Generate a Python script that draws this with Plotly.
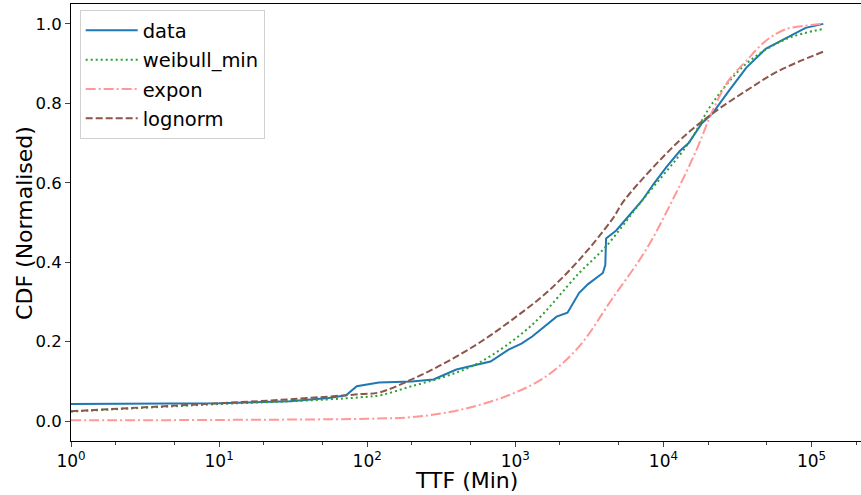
import plotly.graph_objects as go

# TTF (minutes) and CDF values
data_x = [1, 10, 30, 55, 72, 85, 120, 200, 280, 400, 520, 680, 900, 1100, 1300,
          1600, 1900, 2250, 2500, 2700, 3100, 3500, 3900, 4050, 4100, 4800,
          5900, 7200, 8700, 10500, 12900, 14800, 18200, 21400, 27500, 36300,
          49000, 67600, 91200, 120000]
data_y = [0.043, 0.045, 0.05, 0.058, 0.065, 0.088, 0.097, 0.10, 0.105, 0.13,
          0.14, 0.15, 0.18, 0.195, 0.213, 0.24, 0.263, 0.273, 0.30, 0.323,
          0.345, 0.36, 0.373, 0.393, 0.46, 0.48, 0.52, 0.556, 0.60, 0.64,
          0.68, 0.70, 0.75, 0.774, 0.83, 0.89, 0.937, 0.965, 0.99, 1.0]

weib_x = [1, 10, 30, 90, 125, 200, 340, 575, 1260, 2700, 4100, 7200, 14800,
          21400, 36300, 67600, 120000]
weib_y = [0.024, 0.043, 0.05, 0.06, 0.066, 0.088, 0.113, 0.148, 0.238, 0.373,
          0.44, 0.556, 0.70, 0.80, 0.90, 0.962, 0.987]

expon_x = [1, 10, 100, 200, 360, 600, 1000, 1620, 2700, 4470, 7590, 11500,
           16600, 21400, 27500, 36300, 49000, 67600, 100000, 120000]
expon_y = [0.002, 0.003, 0.006, 0.01, 0.023, 0.043, 0.072, 0.113, 0.188, 0.306,
           0.43, 0.556, 0.68, 0.78, 0.857, 0.907, 0.957, 0.987, 0.997, 1.0]

logn_x = [1, 10, 30, 90, 120, 200, 340, 575, 950, 1620, 2700, 4470, 5500,
          12900, 21400, 36300, 60300, 120000]
logn_y = [0.025, 0.045, 0.055, 0.068, 0.072, 0.105, 0.148, 0.198, 0.255,
          0.323, 0.406, 0.506, 0.558, 0.707, 0.774, 0.832, 0.882, 0.93]

x_ticks = [1, 10, 100, 1000, 10000, 100000]
x_tick_text = ["10<sup>0</sup>", "10<sup>1</sup>", "10<sup>2</sup>",
               "10<sup>3</sup>", "10<sup>4</sup>", "10<sup>5</sup>"]
y_ticks = [0.0, 0.2, 0.4, 0.6, 0.8, 1.0]

fig = go.Figure()
fig.add_trace(go.Scatter(x=data_x, y=data_y, mode="lines", name="data",
                         legendgroup="a",
                         line=dict(color="#1f77b4", width=2)))
fig.add_trace(go.Scatter(x=weib_x, y=weib_y, mode="lines", name="weibull_min",
                         legendgroup="b", line_shape="spline",
                         line=dict(color="#2ca02c", width=2, dash="2px,3px")))
fig.add_trace(go.Scatter(x=expon_x, y=expon_y, mode="lines", name="expon",
                         legendgroup="c", line_shape="spline",
                         line=dict(color="#ff9896", width=2, dash="10px,3px,2px,3px")))
fig.add_trace(go.Scatter(x=logn_x, y=logn_y, mode="lines", name="lognorm",
                         legendgroup="d", line_shape="spline",
                         line=dict(color="#8c564b", width=2, dash="7px,3px")))

font = "DejaVu Sans"
fig.update_layout(
    width=861, height=495,
    margin=dict(l=71, r=0, t=4, b=54),
    plot_bgcolor="white", paper_bgcolor="white",
    font=dict(family=font, color="black", size=16),
    legend=dict(x=0.011, y=0.986, xanchor="left", yanchor="top",
                bgcolor="rgba(255,255,255,0.8)", bordercolor="#d0d0d0",
                borderwidth=1, font=dict(size=19.5), tracegroupgap=1,
                itemwidth=52),
    xaxis=dict(type="log", range=[0, 5.334], tickvals=x_ticks,
               ticktext=x_tick_text, ticks="outside", ticklen=5,
               tickfont=dict(size=17),
               showgrid=False, zeroline=False, showline=True,
               linecolor="black", linewidth=1, mirror=True, automargin=False,
               minor=dict(ticks="outside", ticklen=3, showgrid=False)),
    yaxis=dict(range=[-0.05, 1.05], tickvals=y_ticks, tickformat=".1f",
               ticks="outside", ticklen=5, tickfont=dict(size=16.5),
               showgrid=False, zeroline=False,
               showline=True, linecolor="black", linewidth=1, automargin=False),
)

# axis titles as annotations so they sit where the reference puts them
fig.add_annotation(text="TTF (Min)", xref="paper", yref="paper",
                   x=0.5, y=-0.091, xanchor="center", yanchor="middle",
                   showarrow=False, font=dict(size=22))
fig.add_annotation(text="CDF (Normalised)", xref="paper", yref="paper",
                   x=-0.059, y=0.5, xanchor="center", yanchor="middle",
                   textangle=-90, showarrow=False, font=dict(size=22))

# drop the browser's default body margin so the figure sits at the page corner
fig.write_html("out.html", config={"displayModeBar": False},
               post_script="document.body.style.margin='0';")
